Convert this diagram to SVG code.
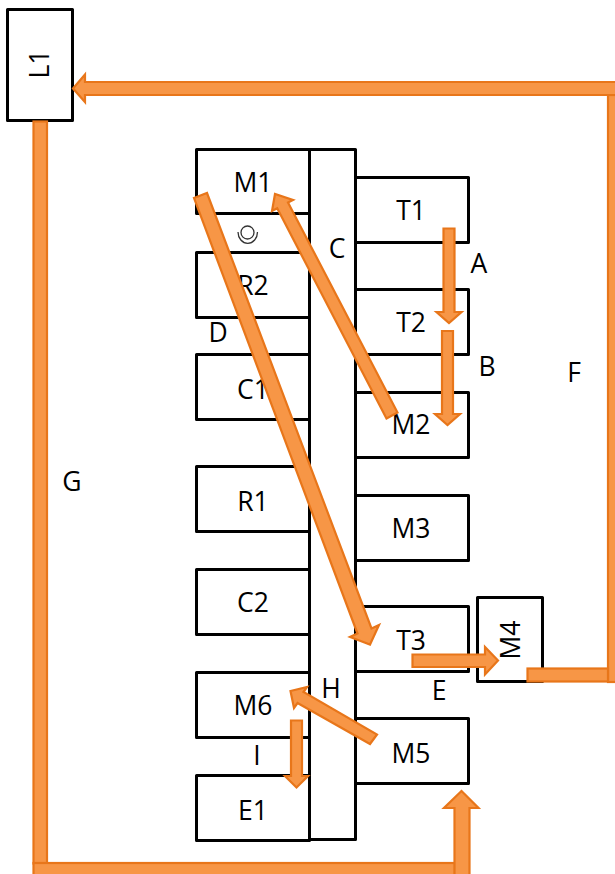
<svg xmlns="http://www.w3.org/2000/svg" width="615" height="874" viewBox="0 0 615 874">
<style>
.b{fill:#fff;stroke:#000;stroke-width:3;stroke-linejoin:round}
.t{font-family:"Open Sans","Noto Sans",sans-serif;font-size:26.500px;fill:#000;text-anchor:middle}
.a{fill:#f79646;stroke:#e8761a;stroke-width:2.200;stroke-linejoin:miter}
</style>
<rect width="615" height="874" fill="#fff"/>
<g id="L1"><rect class="b" x="7.500" y="9.500" width="65" height="111"/><text class="t" transform="translate(49,64) rotate(-90)">L1</text></g>
<g id="M1"><rect class="b" x="196.500" y="149.500" width="113" height="64"/><text class="t" x="253" y="192">M1</text></g>
<g id="R2"><rect class="b" x="196.500" y="252.500" width="113" height="65"/><text class="t" x="253" y="295">R2</text></g>
<g id="C1"><rect class="b" x="196.500" y="354.500" width="113" height="65"/><text class="t" x="253" y="399">C1</text></g>
<g id="R1"><rect class="b" x="196.500" y="466.500" width="113" height="65"/><text class="t" x="253" y="511">R1</text></g>
<g id="C2"><rect class="b" x="196.500" y="569.500" width="113" height="65"/><text class="t" x="253" y="612">C2</text></g>
<g id="M6"><rect class="b" x="196.500" y="672.500" width="113" height="65"/><text class="t" x="253" y="715">M6</text></g>
<g id="E1"><rect class="b" x="196.500" y="775.500" width="113" height="65"/><text class="t" x="253" y="820">E1</text></g>
<g id="T1"><rect class="b" x="355.500" y="177.500" width="113" height="65"/><text class="t" x="411" y="220">T1</text></g>
<g id="T2"><rect class="b" x="355.500" y="289.500" width="113" height="65"/><text class="t" x="411" y="332">T2</text></g>
<g id="M2"><rect class="b" x="355.500" y="392.500" width="113" height="65"/><text class="t" x="411" y="434">M2</text></g>
<g id="M3"><rect class="b" x="355.500" y="495.500" width="113" height="65"/><text class="t" x="411" y="538">M3</text></g>
<g id="T3"><rect class="b" x="355.500" y="606.500" width="113" height="65"/><text class="t" x="411" y="650">T3</text></g>
<g id="M5"><rect class="b" x="355.500" y="718.500" width="113" height="65"/><text class="t" x="411" y="763">M5</text></g>
<g id="M4"><rect class="b" x="477.500" y="597.500" width="65" height="84"/><text class="t" transform="translate(520,640) rotate(-90)">M4</text></g>
<g id="bar"><rect class="b" x="309.500" y="149.500" width="46" height="690"/></g>
<g id="labels">
<text class="t" x="337" y="258">C</text>
<text class="t" x="331" y="698">H</text>
<text class="t" x="479" y="273">A</text>
<text class="t" x="487" y="376">B</text>
<text class="t" x="218" y="342">D</text>
<text class="t" x="439" y="700">E</text>
<text class="t" x="574" y="382">F</text>
<text class="t" x="72" y="491">G</text>
<text class="t" x="257" y="765">I</text>
</g>
<g id="symbol" fill="none" stroke="#333" stroke-width="1.300"><circle cx="247.500" cy="232.500" r="6.500"/><path d="M238 232A9.500 11 0 0 0 257.500 232"/></g>
<g id="connectors">
<polygon class="a" points="443.500,228.500 454.500,228.500 454.500,312 461.500,312 449,323 436.500,312 443.500,312"/>
<polygon class="a" points="442,331 453,331 453,414 460,414 447.500,425 435,414 442,414"/>
<polygon class="a" points="386.500,418.500 397.500,412.500 288,202.500 293,200 275,194 272,211 277.200,208.300"/>
<polygon class="a" points="194,198 207,193 371.500,628.500 379,625 370,644.500 350,637 357.500,633.500"/>
<polygon class="a" points="412.500,654.500 485,654.500 485,647 498,660.500 485,674.500 485,667 412.500,667"/>
<polygon class="a" points="370,744 377,734.500 303.500,692 307,687 290.500,691 294,708 297.500,703"/>
<polygon class="a" points="291,720.500 302,720.500 302,776 308,776 296.500,787.500 285,776 291,776"/>
<rect class="a" x="33.500" y="121.500" width="13.500" height="742"/>
<rect class="a" x="33.500" y="863" width="421.500" height="20"/>
<polygon class="a" points="454.500,883 454.500,808 444,808 461.500,791 478.500,808 469.500,808 469.500,883"/>
<rect class="a" x="608" y="95" width="14" height="587"/>
<rect class="a" x="527.500" y="668.500" width="80.500" height="13"/>
<polygon class="a" points="622,82 85,82 85,74.500 73,88.500 85,102 85,95 622,95"/>
</g>
</svg>
